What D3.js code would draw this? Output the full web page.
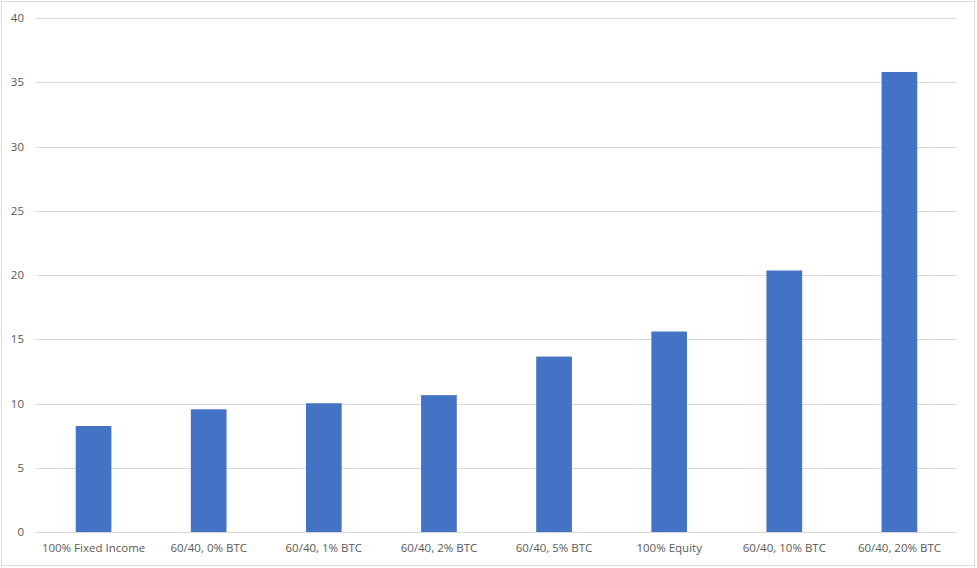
<!DOCTYPE html>
<html>
<head>
<meta charset="utf-8">
<script src="https://cdn.jsdelivr.net/npm/d3@7"></script>
<style>
  body { margin: 0; background: #fff; }
  svg { display: block; }
</style>
</head>
<body>
<script>
// Chart data
var categories = ["100% Fixed Income", "60/40, 0% BTC", "60/40, 1% BTC", "60/40, 2% BTC",
                  "60/40, 5% BTC", "100% Equity", "60/40, 10% BTC", "60/40, 20% BTC"]
var values = [8.25, 9.55, 10.02, 10.65, 13.65, 15.6, 20.35, 35.8]
var yTicks = [0, 5, 10, 15, 20, 25, 30, 35, 40]

var w = 977
var h = 568
var margin = {top: 18, right: 20, bottom: 36, left: 36}

var svg = d3.select("body")
  .append("svg")
  .attr("width", w)
  .attr("height", h)

// Outer frame
svg.append("rect")
  .attr("x", 1.5)
  .attr("y", 1.5)
  .attr("width", 973)
  .attr("height", 564)
  .attr("fill", "#fff")
  .attr("stroke", "#d9d9d9")
  .attr("stroke-width", 1)

var xScale = d3.scaleBand()
  .domain(categories)
  .range([margin.left, w - margin.right])
  .paddingInner(0.69)
  .paddingOuter(0.345)

var yScale = d3.scaleLinear()
  .domain([0, 40])
  .range([h - margin.bottom, margin.top])

// Gridlines
svg.append("g")
  .selectAll("line")
  .data(yTicks)
  .enter()
  .append("line")
  .attr("x1", margin.left)
  .attr("x2", w - margin.right)
  .attr("y1", function(d) { return Math.round(yScale(d)) + 0.5 })
  .attr("y2", function(d) { return Math.round(yScale(d)) + 0.5 })
  .attr("stroke", "#d9d9d9")
  .attr("stroke-width", 1)

// Y axis labels
var yAxis = svg.append("g")
  .attr("transform", "translate(" + (margin.left - 6) + ",0)")
  .call(d3.axisLeft(yScale).tickValues(yTicks).tickSize(0).tickPadding(6))
yAxis.select(".domain").remove()
yAxis.selectAll("text")
  .style("font-family", "'Open Sans', sans-serif")
  .style("font-size", "11.5px")
  .attr("fill", "#595959")

// Bars
svg.selectAll("rect.bar")
  .data(values)
  .enter()
  .append("rect")
  .attr("class", "bar")
  .attr("x", function(d, i) { return xScale(categories[i]) })
  .attr("width", xScale.bandwidth())
  .attr("y", function(d) { return yScale(d) })
  .attr("height", function(d) { return yScale(0) - yScale(d) })
  .attr("fill", "#4472c4")

// X axis labels
var xAxis = svg.append("g")
  .attr("transform", "translate(0," + (h - margin.bottom) + ")")
  .call(d3.axisBottom(xScale).tickSize(0).tickPadding(12))
xAxis.select(".domain").remove()
xAxis.selectAll("text")
  .style("font-family", "'Open Sans', sans-serif")
  .style("font-size", "11.5px")
  .attr("fill", "#595959")
</script>
</body>
</html>
